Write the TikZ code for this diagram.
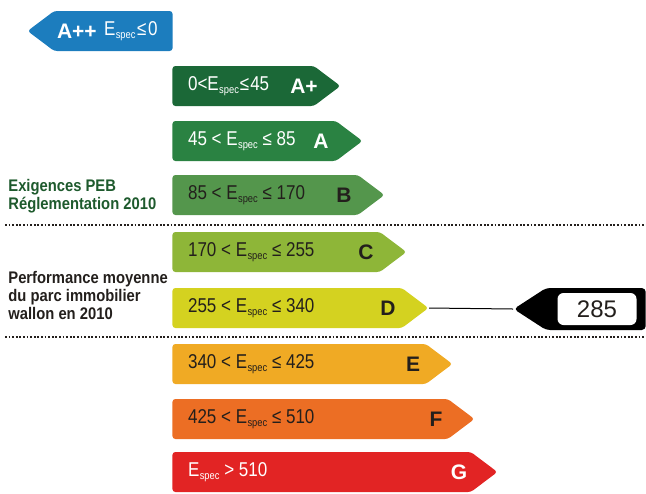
\documentclass[tikz,border=0pt]{standalone}
\usepackage{fontspec}
\setmainfont{Liberation Sans}
\newfontfamily\narrowfont{Liberation Sans}[FakeStretch=0.85]
\newfontfamily\sidefont{Liberation Sans}[FakeStretch=0.88]
\usetikzlibrary{shapes.symbols}

\definecolor{classApp}{RGB}{28,125,190}
\definecolor{classAp}{RGB}{27,104,55}
\definecolor{classA}{RGB}{42,130,66}
\definecolor{classB}{RGB}{84,150,76}
\definecolor{classC}{RGB}{142,182,56}
\definecolor{classD}{RGB}{212,210,32}
\definecolor{classE}{RGB}{240,170,36}
\definecolor{classF}{RGB}{236,110,36}
\definecolor{classG}{RGB}{226,36,36}
\definecolor{inkdark}{RGB}{35,31,28}
\definecolor{inkgreen}{RGB}{30,90,45}

\newcommand\Espec{E\kern0.2pt\raisebox{-0.25ex}{\fontsize{5.5}{5.5}\selectfont spec}}

\begin{document}
\begin{tikzpicture}[x=0.5pt,y=-0.5pt,
  bar/.style={signal,signal to=east,signal pointer angle=74,
    minimum height=20pt,inner sep=0pt,anchor=west,rounded corners=1.5pt},
  rangetext/.style={anchor=west,font=\narrowfont\fontsize{10}{11}\selectfont},
  grade/.style={font=\bfseries\fontsize{10.5}{11}\selectfont},
  side/.style={align=left,anchor=west,inner sep=0pt,
    font=\sidefont\bfseries\fontsize{8.4}{9}\selectfont},
  sep/.style={inkdark,line width=0.9pt,dash pattern=on 0.9pt off 0.9pt}]

  \useasboundingbox (0,0) rectangle (646,493);

  % top class, pointing left
  \node[bar,signal to=west,anchor=east,fill=classApp,minimum width=72.5pt]
    (app) at (173,31) {};
  \node[grade,white,anchor=west] (gapp) at (50,31) {A++};
  \node[rangetext,white] (rapp) at (97,31) {\Espec\kern0.8pt≤\kern0.8pt0};

  % classes A+ .. G
  \node[bar,fill=classAp,minimum width=84pt] (ap) at (172,86) {};
  \node[bar,fill=classA,minimum width=95pt] (a) at (172,141) {};
  \node[bar,fill=classB,minimum width=106pt] (b) at (172,195) {};
  \node[bar,fill=classC,minimum width=117pt] (c) at (172,252) {};
  \node[bar,fill=classD,minimum width=128pt] (d) at (172,308) {};
  \node[bar,fill=classE,minimum width=140pt] (e) at (172,364) {};
  \node[bar,fill=classF,minimum width=151pt] (f) at (172,419) {};
  \node[bar,fill=classG,minimum width=162.5pt] (g) at (172,472) {};

  \node[rangetext,white] (rap) at (181,86) {0<\Espec\kern0.5pt≤\kern0.5pt45};
  \node[grade,white] (gap) at (304,86) {A+};
  \node[rangetext,white] (ra) at (181,141) {45 < \Espec\ ≤ 85};
  \node[grade,white] (ga) at (321,141) {A};
  \node[rangetext,inkdark] (rb) at (181,195) {85 < \Espec\ ≤ 170};
  \node[grade,inkdark] (gb) at (344,195) {B};
  \node[rangetext,inkdark] (rc) at (181,252) {170 < \Espec\ ≤ 255};
  \node[grade,inkdark] (gc) at (366,252) {C};
  \node[rangetext,inkdark] (rd) at (181,308) {255 < \Espec\ ≤ 340};
  \node[grade,inkdark] (gd) at (388,308) {D};
  \node[rangetext,inkdark] (re) at (181,364) {340 < \Espec\ ≤ 425};
  \node[grade,inkdark] (ge) at (413,364) {E};
  \node[rangetext,inkdark] (rf) at (181,419) {425 < \Espec\ ≤ 510};
  \node[grade,inkdark] (gf) at (436,419) {F};
  \node[rangetext,white] (rg) at (181,472) {\Espec\ > 510};
  \node[grade,white] (gg) at (459,472) {G};

  % side notes and separators
  \node[side,inkgreen] (peb) at (8,196) {Exigences PEB\\Réglementation 2010};
  \node[side,inkdark] (parc) at (8,295)
    {Performance moyenne\\du parc immobilier\\wallon en 2010};
  \draw[sep] (5,225) -- (646,225);
  \draw[sep] (5,337) -- (646,337);

  % average value marker
  \node[signal,signal to=west,signal pointer angle=66,fill=black,
    minimum height=21pt,minimum width=66pt,inner sep=0pt,anchor=west,
    rounded corners=2pt] (mark) at (513,309) {};
  \node[fill=white,rounded corners=3pt,minimum width=39.5pt,
    minimum height=16pt,inner sep=0pt,text=inkdark,
    font=\fontsize{12}{12}\selectfont] (val) at (597,309) {285};
  \draw[line width=0.5pt] (d.east) -- (mark.west);
\end{tikzpicture}
\end{document}
